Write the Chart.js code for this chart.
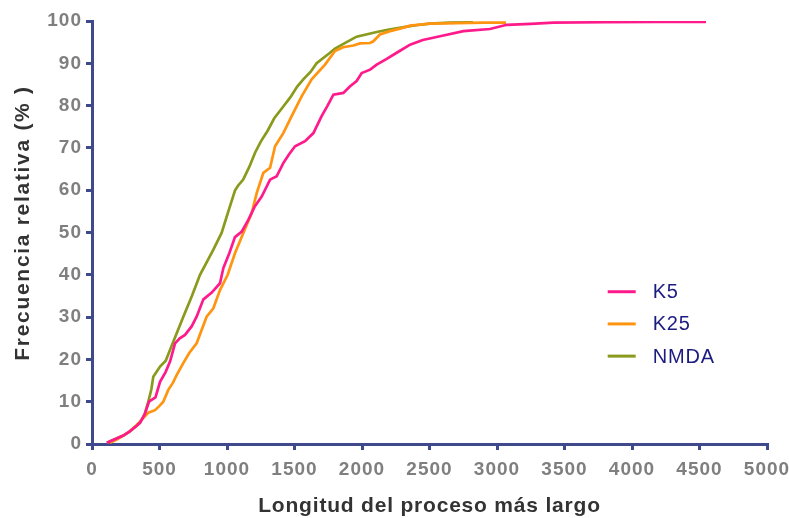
<!DOCTYPE html>
<html>
<head>
<meta charset="utf-8">
<script src="https://cdn.jsdelivr.net/npm/chart.js@4"></script>
<style>
  html, body { margin: 0; padding: 0; background: #fff; }
  #wrap { width: 789px; height: 518px; }
</style>
</head>
<body>
<div id="wrap"><canvas id="chart" width="789" height="518"></canvas></div>
<script>
// curvas de frecuencia acumulada
const seriesLabels = ['K5', 'K25', 'NMDA'];
const seriesColors = ['#ff1a8c', '#ff9410', '#8a9a1c'];

const k5X = [110,160,232,280,331,355,390,422,470,504,545,578,615,650,689,738,775,825,887,948,973,1017,1059,1109,1158,1207,1257,1319,1368,1417,1460,1504,1578,1640,1701,1745,1788,1862,1910,1960,1998,2060,2109,2180,2257,2356,2450,2578,2751,2948,3072,3250,3417,3800,4200,4548];
const k5Y = [0.3,1,2,3,4.3,5,7,10,11,14.7,17,19.5,23.8,25,25.8,27.8,30.1,34.2,35.8,38,41.6,45.1,48.9,50.2,53,56.2,58.5,62.5,63.3,66.4,68.5,70.4,71.6,73.5,77.5,80,82.6,83,84.5,85.8,87.7,88.5,89.7,91,92.5,94.4,95.5,96.4,97.6,98.1,99.1,99.3,99.6,99.7,99.8,99.8];

const k25X = [133,180,232,280,331,355,390,417,467,500,528,565,600,627,676,720,775,849,899,948,1005,1059,1121,1183,1220,1269,1319,1356,1417,1491,1553,1627,1726,1800,1860,1936,1985,2059,2084,2133,2207,2281,2356,2504,2700,2900,3067];
const k25Y = [0.3,1,2,3,4.5,5.3,6.5,7.4,8,9,10,12.8,14.5,16.3,19.1,21.5,23.8,30.1,32.1,36.4,40,45.1,49.9,54.6,59.3,64.1,65.3,70.4,73.5,78.3,82.2,86.2,89.7,92.9,93.8,94.2,94.7,94.8,95.2,96.8,97.6,98.2,98.9,99.4,99.5,99.6,99.6];

const nmdaX = [110,160,232,280,331,355,390,417,440,454,504,546,600,672,740,800,850,898,960,1010,1059,1080,1120,1165,1207,1250,1300,1350,1417,1470,1520,1565,1620,1664,1763,1800,1886,1960,2109,2200,2300,2400,2500,2650,2822];
const nmdaY = [0.3,1,2,3,4.3,5,7,10,13,15.9,18.3,19.7,24,29.7,35,40,43,45.9,49.9,55,59.9,61,62.5,65.5,68.8,71.5,74,77,79.8,82,84.5,86.2,88,90,92.5,93.5,95,96.3,97.4,98,98.5,99,99.4,99.6,99.7];

const xTitle = 'Longitud del proceso más largo';
const yTitle = 'Frecuencia relativa (% )';

const axisColor = '#3f4a8c';
const tickColor = '#7f7f7f';
const titleColor = '#333333';
const fontFam = "Arial, 'Liberation Sans', sans-serif";

const pts = (xs, ys) => xs.map((x, i) => ({ x, y: ys[i] }));
const allX = [k5X, k25X, nmdaX];
const allY = [k5Y, k25Y, nmdaY];

// el original tiene el texto algo más espaciado
const spacingPlugin = {
    id: 'spacing',
    beforeDraw(chart) { chart.ctx.letterSpacing = '1px'; },
};

// títulos de ejes y leyenda sin recuadro
const decorPlugin = {
    id: 'decor',
    afterDraw(chart) {
        const ctx = chart.ctx;
        const ca = chart.chartArea;
        ctx.save();
        ctx.fillStyle = titleColor;
        ctx.textAlign = 'center';
        ctx.textBaseline = 'middle';
        ctx.font = `bold 21px ${fontFam}`;
        ctx.letterSpacing = '0.8px';
        ctx.fillText(xTitle, (ca.left + ca.right) / 2, 506);
        ctx.save();
        ctx.translate(23, 223);
        ctx.rotate(-Math.PI / 2);
        ctx.letterSpacing = '1.7px';
        ctx.fillText(yTitle, 0, 0);
        ctx.restore();

        const x0 = ca.left + (ca.right - ca.left) * 0.764;
        const y0 = ca.top + (ca.bottom - ca.top) * 0.64;
        ctx.font = `20px ${fontFam}`;
        ctx.letterSpacing = '0.8px';
        ctx.textAlign = 'left';
        chart.data.datasets.forEach((ds, i) => {
            const y = y0 + i * 32.2;
            ctx.strokeStyle = ds.borderColor;
            ctx.lineWidth = 3;
            ctx.beginPath();
            ctx.moveTo(x0, y);
            ctx.lineTo(x0 + 28, y);
            ctx.stroke();
            ctx.fillStyle = '#1c1c80';
            ctx.fillText(ds.label, x0 + 45, y + 1);
        });
        ctx.restore();
    }
};

new Chart(document.getElementById('chart').getContext('2d'), {
    type: 'line',
    data: {
        datasets: seriesLabels.map((lab, i) => ({
            label: lab,
            data: pts(allX[i], allY[i]),
            borderColor: seriesColors[i],
            backgroundColor: seriesColors[i],
            borderWidth: 2.7,
            pointRadius: 0,
            tension: 0,
            fill: false,
        })),
    },
    options: {
        responsive: false,
        animation: false,
        layout: { padding: { left: 0, right: 22, top: 21, bottom: 0 } },
        plugins: { legend: { display: false }, tooltip: { enabled: false } },
        scales: {
            x: {
                type: 'linear', min: 0, max: 5000,
                ticks: { stepSize: 500, color: tickColor, font: { family: fontFam, size: 19, weight: 'bold' }, padding: 8, maxRotation: 0,
                         callback: v => String(v) },
                grid: { display: true, drawOnChartArea: false, drawTicks: true, tickLength: 6, color: axisColor, lineWidth: 3 },
                border: { color: axisColor, width: 3 },
                afterFit: s => { s.height = 74; s.paddingLeft = 0; s.paddingRight = 0; },
            },
            y: {
                type: 'linear', min: 0, max: 100,
                ticks: { stepSize: 10, color: tickColor, font: { family: fontFam, size: 19, weight: 'bold' }, padding: 4,
                         callback: v => String(v) },
                grid: { display: true, drawOnChartArea: false, drawTicks: true, tickLength: 6, color: axisColor, lineWidth: 3 },
                border: { color: axisColor, width: 3 },
                afterFit: s => { s.width = 92; s.paddingTop = 0; s.paddingBottom = 0; },
            },
        },
    },
    plugins: [spacingPlugin, decorPlugin],
});
</script>
</body>
</html>
